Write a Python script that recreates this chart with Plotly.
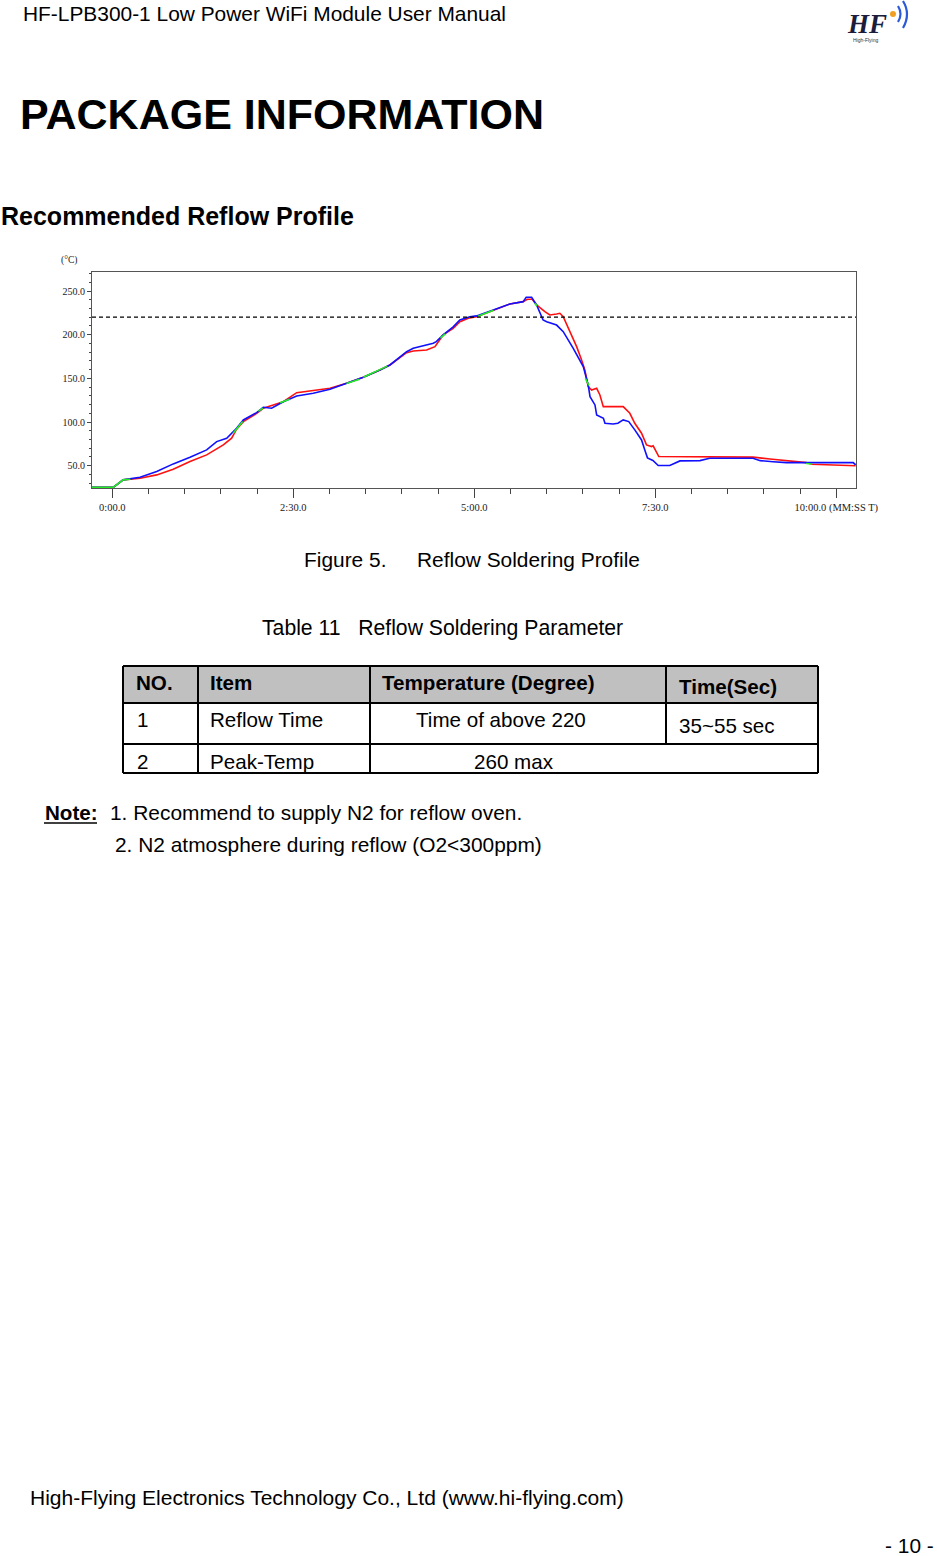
import plotly.graph_objects as go

W, H = 937, 1556

# ---------------- data ----------------
# time in seconds from 0:00.0, temperature in degrees C
red_time = [-17, 1, 9, 23, 36.8, 50.5, 64.4, 78.2, 92, 98.9, 103, 108.6, 119.6, 125.1, 133.4,
            141.7, 152.8, 166.5, 180.4, 194.2, 208, 221.8, 230.1, 243.9, 249.4, 260.5, 267.4,
            274.2, 282.5, 288.1, 295, 301.9, 315.7, 329.5, 340.5, 344, 348, 351.6, 358.5, 362.6,
            368.2, 370.9, 373.7, 379.3, 384.8, 388.9, 391.6, 394.4, 397.2, 401.4, 404.1, 406.9,
            423.4, 428.9, 433, 438.6, 442.7, 446.9, 448.2, 452.9, 531, 545, 558.7, 575.3, 579.5,
            614, 616]
red_temp = [25.4, 25.4, 33.8, 35.7, 39.5, 46, 54.7, 62.4, 73.8, 81.5, 91.8, 100.5, 110, 115.8, 119.6,
            123.3, 133.6, 135.9, 138.6, 144.4, 151.3, 159.6, 165.3, 179.4, 181.4, 182.5, 186.3,
            199.7, 207.3, 214.9, 218.8, 220.6, 228.3, 235.1, 237.8, 240.5, 240.5, 234, 226.3, 222.5,
            223.7, 224.5, 220.6, 203.4, 186.3, 171, 159.6, 140.5, 136.7, 138.6, 131, 117.6,
            117.6, 110, 98.6, 87.2, 73.8, 71.9, 72.7, 60.5, 59.8, 57.6, 55.5, 53.6, 51.7,
            50.9, 50]

blue_time = [-17, 1, 9, 23, 36.8, 50.5, 64.4, 78.2, 86.5, 94.8, 103, 108.6, 119.6, 125.1, 132,
             141.7, 152.8, 166.5, 180.4, 194.2, 208, 221.8, 230.1, 243.9, 249.4, 266, 268.5,
             274.2, 282.5, 288, 296.4, 301.9, 315.7, 329.5, 340.5, 343, 347.5, 351.6, 357, 360,
             368.2, 373.7, 382, 390.3, 394.4, 395.9, 400, 401.4, 407, 408.3, 415, 419, 423.4,
             428, 433, 438.6, 441.3, 443.5, 448, 452.4, 462, 470.4, 487, 495, 531, 537, 547.6,
             558.7, 614, 616]
blue_temp = [25.4, 25.4, 33.8, 36.8, 43.3, 52.1, 59.7, 68.1, 77.6, 81.5, 92.9, 102.4, 110.8, 116.9, 115.8,
             123.3, 129.9, 133, 137.5, 144.4, 151.3, 159.6, 165.3, 180.5, 184.4, 190.2, 192,
             199.7, 209, 216.8, 220.6, 221.5, 228.3, 235.1, 237.8, 242.8, 242.8, 234, 216.8, 214.9,
             211, 203.4, 184.4, 163.4, 142.4, 129, 119.6, 108.1, 104.3, 98.6, 97.8, 98.6, 102.4,
             100.5, 91, 79.5, 68, 59, 56, 50.2, 50.2, 55.5, 55.8, 58.6, 58.6, 55.8, 54.6,
             53.6, 53.6, 51]

# green sensor: only visible in short segments (None = hidden behind other traces)
green_time = [-17, 1, 9, 15, None, 100, 104, 108, None, 121, 125, None, 139, 147, None,
              194, 205, None, 208, 221.8, 228, None, 272, 276, None, 303, 316, None,
              350, 352, None, 392, 395, None, 575, 580]
green_temp = [25.4, 25.4, 33.8, 34.5, None, 87, 93.5, 100.5, None, 112.5, 116, None, 122, 126, None,
              144, 149, None, 151.3, 159.6, 164, None, 196, 201, None, 221, 228, None,
              236, 233, None, 150, 142, None, 52.5, 52]

limit_temp = 220
x_tick_vals = [0, 150, 300, 450, 600]
x_tick_text = ["0:00.0", "2:30.0", "5:00.0", "7:30.0", "10:00.0 (MM:SS T)"]
y_tick_vals = [50, 100, 150, 200, 250]
y_tick_text = ["50.0", "100.0", "150.0", "200.0", "250.0"]

table_header = ["NO.", "Item", "Temperature (Degree)", "Time(Sec)"]
table_row1 = ["1", "Reflow Time", "Time of above 220", "35~55 sec"]
table_row2 = ["2", "Peak-Temp", "260 max"]

# ---------------- helpers ----------------
def px(x):
    return x / W

def py(y):
    return 1 - y / H

SANS = "Liberation Sans, Arial, sans-serif"
SERIF = "Liberation Serif, Times New Roman, serif"
BODY = 20.9

annotations = []
shapes = []

def text(t, x, y, size=BODY, bold=False, anchor="left", family=SANS, color="#000000"):
    if bold:
        t = "<b>" + t + "</b>"
    annotations.append(dict(text=t, x=px(x), y=py(y), xref="paper", yref="paper",
                            xanchor=anchor, yanchor="middle", showarrow=False, borderpad=0,
                            font=dict(family=family, size=size, color=color)))

def line(x0, y0, x1, y1, color="#000000", width=2, dash=None):
    d = dict(type="line", xref="paper", yref="paper", x0=px(x0), y0=py(y0), x1=px(x1), y1=py(y1),
             line=dict(color=color, width=width))
    if dash:
        d["line"]["dash"] = dash
    shapes.append(d)

# ---------------- figure ----------------
fig = go.Figure()
fig.add_trace(go.Scatter(x=red_time, y=red_temp, mode="lines",
                         line=dict(color="#ff1010", width=1.6), showlegend=False, hoverinfo="skip"))
fig.add_trace(go.Scatter(x=blue_time, y=blue_temp, mode="lines",
                         line=dict(color="#1010ff", width=1.6), showlegend=False, hoverinfo="skip"))
fig.add_trace(go.Scatter(x=green_time, y=green_temp, mode="lines", connectgaps=False,
                         line=dict(color="#22ee22", width=1.6), showlegend=False, hoverinfo="skip"))

# dashed 220 limit line
shapes.append(dict(type="line", xref="x domain", yref="y", x0=0, x1=1, y0=limit_temp, y1=limit_temp,
                   line=dict(color="#000000", width=1.2, dash="4px,3px")))

# ---------------- page texts ----------------
text("HF-LPB300-1 Low Power WiFi Module User Manual", 22, 13, size=20.9)
text("PACKAGE INFORMATION", 19, 114, size=43, bold=True)
text("Recommended Reflow Profile", 0, 216, size=25, bold=True)
text("(°C)", 60, 260, size=9.5, family=SERIF, color="#222222")
text("Figure 5.", 303, 559)
text("Reflow Soldering Profile", 416, 559)
text("Table 11   Reflow Soldering Parameter", 261, 628, size=21.2)

# logo
text("<i><b>HF</b></i>", 867, 24, size=27, anchor="center", family=SERIF, color="#1c1c3c")
text("High-Flying", 866, 40, size=5, anchor="center", color="#333333")
shapes.append(dict(type="circle", xref="paper", yref="paper", x0=px(890), x1=px(896), y0=py(11), y1=py(17),
                   fillcolor="#f0a020", line=dict(width=0)))
shapes.append(dict(type="path", xref="paper", yref="paper",
                   path=f"M {px(898)} {py(6)} Q {px(903)} {py(14)} {px(898)} {py(22)}",
                   line=dict(color="#2a5ad8", width=2.2)))
shapes.append(dict(type="path", xref="paper", yref="paper",
                   path=f"M {px(903)} {py(1)} Q {px(911)} {py(14)} {px(903)} {py(28)}",
                   line=dict(color="#2a5ad8", width=2.2)))

# ---------------- table ----------------
tx = [123, 198, 370, 666, 818]
ty = [666, 703, 744, 773]
shapes.append(dict(type="rect", xref="paper", yref="paper", x0=px(tx[0]), x1=px(tx[4]),
                   y0=py(ty[0]), y1=py(ty[1]), fillcolor="#c0c0c0", line=dict(width=0), layer="below"))
for yy in ty:
    line(tx[0], yy, tx[4], yy)
for xx in [tx[0], tx[1], tx[2], tx[4]]:
    line(xx, ty[0], xx, ty[3])
line(tx[3], ty[0], tx[3], ty[2])

hx = [135, 209, 381, 678]
hy = [682, 682, 682, 686]
for t, x, y in zip(table_header, hx, hy):
    text(t, x, y, size=20.6, bold=True)
r1x = [136, 209, 415, 678]
r1y = [719, 719, 719, 725]
for t, x, y in zip(table_row1, r1x, r1y):
    text(t, x, y, size=20.6)
r2x = [136, 209, 473]
for t, x in zip(table_row2, r2x):
    text(t, x, 761, size=20.6)

# ---------------- note ----------------
text("Note:", 44, 812, size=20.6, bold=True)
line(44, 823, 97, 823, width=1.6)
text("1. Recommend to supply N2 for reflow oven.", 109, 812)
text("2. N2 atmosphere during reflow (O2<300ppm)", 114, 844)

# ---------------- footer ----------------
text("High-Flying Electronics Technology Co., Ltd (www.hi-flying.com)", 29, 1497, size=21)
text("- 10 -", 935, 1545, anchor="right")

# ---------------- axes ----------------
x0_pix, x1_pix = 92, 856
y_top_pix, y_bot_pix = 272, 488
t_per_px = 150 / 181.0
t_left = (x0_pix - 112.3) * t_per_px
t_right = (x1_pix - 112.3) * t_per_px
deg_per_px = 50 / 43.68
temp_top = 250 + (291 - y_top_pix) * deg_per_px
temp_bot = 250 - (y_bot_pix - 291) * deg_per_px

fig.update_layout(
    width=W, height=H, autosize=False,
    margin=dict(l=0, r=0, t=0, b=0, pad=0, autoexpand=False),
    paper_bgcolor="white", plot_bgcolor="white",
    showlegend=False,
    annotations=annotations, shapes=shapes,
    xaxis=dict(domain=[px(x0_pix), px(x1_pix)], range=[t_left, t_right], automargin=False,
               tickmode="array", tickvals=x_tick_vals, ticktext=x_tick_text,
               ticks="outside", ticklen=9, tickcolor="#444444", tickwidth=1,
               minor=dict(dtick=30, tick0=0, ticks="outside", ticklen=5, tickcolor="#444444"),
               showgrid=False, zeroline=False, showline=True, linecolor="#555555", linewidth=1,
               mirror=True, tickfont=dict(family=SERIF, size=10.5, color="#222222"),
               fixedrange=True),
    yaxis=dict(domain=[py(y_bot_pix), py(y_top_pix)], range=[temp_bot, temp_top], automargin=False,
               tickmode="array", tickvals=y_tick_vals, ticktext=y_tick_text,
               ticks="outside", ticklen=4, tickcolor="#444444", tickwidth=1,
               minor=dict(dtick=10, tick0=0, ticks="outside", ticklen=2, tickcolor="#444444"),
               showgrid=False, zeroline=False, showline=True, linecolor="#555555", linewidth=1,
               mirror=True, tickfont=dict(family=SERIF, size=10, color="#222222"),
               fixedrange=True),
)

post = (
    "document.documentElement.style.overflow='hidden';"
    "document.documentElement.style.margin='0';"
    "document.body.style.margin='0';document.body.style.padding='0';"
    "document.body.style.overflow='hidden';"
)

fig.write_html("out.html", config={"displayModeBar": False, "responsive": False},
               post_script=post)
